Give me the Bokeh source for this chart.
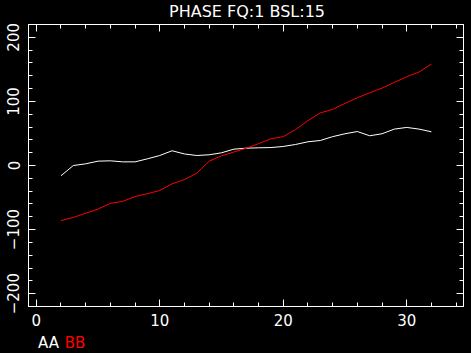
from bokeh.plotting import figure
from bokeh.models import LinearAxis, Label, Range1d, FixedTicker
from bokeh.layouts import column
from bokeh.embed import file_html
from bokeh.resources import INLINE

x_vals = list(range(2, 33))
aa_vals = [-16, 0, 2.6, 6.8, 7.3, 5.7, 5.7, 10.4, 15.6, 23, 18, 15.6, 16.7, 19.8, 25.5,
           27, 27.6, 28, 29.7, 32.8, 37, 39, 45, 49.5, 53, 46.4, 49.5, 56.8, 59.4, 56.8, 52.6]
bb_vals = [-86, -81, -74.5, -68, -59, -56, -48.4, -44, -39, -28.6, -22, -12, 6.8, 15, 21,
           27, 34, 41.7, 45, 56, 70, 82, 87.5, 97, 105.7, 113.5, 120.8, 129.7, 138.5, 145.8, 158.3]
x_ticks = [0, 10, 20, 30]
y_ticks = [-200, -100, 0, 100, 200]
title_text = "PHASE FQ:1 BSL:15"
series_names = ["AA", "BB"]
series_colors = ["white", "#ff0000"]

FONT = "DejaVu Sans"
FS = "15px"
W = 471
BLACK = {"background-color": "black"}

x_range = Range1d(-0.63, 34.6)


def blank_fig(h):
    f = figure(width=W, height=h, output_backend="svg", toolbar_location=None,
               x_axis_type=None, y_axis_type=None,
               x_range=x_range, y_range=Range1d(0, h),
               min_border_left=28, min_border_right=8,
               min_border_top=0, min_border_bottom=0, styles=BLACK)
    f.background_fill_color = "black"
    f.border_fill_color = "black"
    f.outline_line_color = None
    f.grid.visible = False
    return f


# title strip
top = blank_fig(22)
top.add_layout(Label(x=17.07, y=11, text=title_text, text_color="white", text_font=FONT,
                     text_font_size="16px", text_align="center", text_baseline="middle"))

# main plot
p = figure(width=W, height=309, output_backend="svg", toolbar_location=None,
           x_axis_type=None, y_axis_type=None,
           x_range=x_range, y_range=Range1d(-220, 220),
           min_border_left=28, min_border_right=8, min_border_top=2, min_border_bottom=25,
           styles=BLACK)
p.background_fill_color = "black"
p.border_fill_color = "black"
p.outline_line_color = "white"
p.grid.visible = False


def style_axis(ax, labels=True):
    ax.axis_line_color = "white"
    ax.major_tick_line_color = "white"
    ax.minor_tick_line_color = "white"
    ax.major_tick_in = 7
    ax.major_tick_out = 0
    ax.minor_tick_in = 4
    ax.minor_tick_out = 0
    ax.major_label_text_color = "white"
    ax.major_label_text_font = FONT
    ax.major_label_text_font_size = FS
    ax.major_label_standoff = 7
    if not labels:
        ax.major_label_overrides = {t: "" for t in ax.ticker.ticks}
        ax.major_label_text_font_size = "1px"
        ax.major_label_standoff = 0


minor_x = list(range(0, 35, 2))
minor_y = list(range(-220, 221, 20))

xb = LinearAxis(ticker=FixedTicker(ticks=x_ticks, minor_ticks=minor_x))
style_axis(xb)
p.add_layout(xb, "below")
xt = LinearAxis(ticker=FixedTicker(ticks=x_ticks, minor_ticks=minor_x))
style_axis(xt, labels=False)
p.add_layout(xt, "above")

yl = LinearAxis(ticker=FixedTicker(ticks=y_ticks, minor_ticks=minor_y))
style_axis(yl)
yl.major_label_orientation = "vertical"
yl.major_label_standoff = 9
p.add_layout(yl, "left")
yr = LinearAxis(ticker=FixedTicker(ticks=y_ticks, minor_ticks=minor_y))
style_axis(yr, labels=False)
p.add_layout(yr, "right")

p.line(x_vals, aa_vals, line_color=series_colors[0], line_width=1)
p.line(x_vals, bb_vals, line_color=series_colors[1], line_width=1)

# legend strip
leg = blank_fig(22)
leg.add_layout(Label(x=0.14, y=11, text=series_names[0], text_color=series_colors[0],
                     text_font=FONT, text_font_size=FS, text_baseline="middle"))
leg.add_layout(Label(x=2.3, y=11, text=series_names[1], text_color=series_colors[1],
                     text_font=FONT, text_font_size=FS, text_baseline="middle"))

layout = column(top, p, leg, spacing=0, styles=BLACK)
open("out.html", "w").write(file_html(layout, INLINE))
